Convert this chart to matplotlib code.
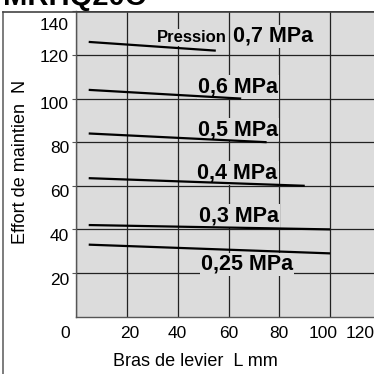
import matplotlib
matplotlib.use("Agg")
import matplotlib.pyplot as plt
import matplotlib.transforms as mtransforms
from matplotlib.lines import Line2D

plt.rcParams['font.family'] = ['Liberation Sans', 'DejaVu Sans']

# Data: lever arm L (mm) -> holding force (N)
pressures = ['0,7', '0,6', '0,5', '0,4', '0,3', '0,25']
lever_start = [5, 5, 5, 5, 5, 5]
lever_end = [55, 65, 75, 90, 100, 100]
force_start = [126, 104, 84, 63.5, 42, 33]
force_end = [122, 100, 80, 60, 40, 29]

# label anchors (data coords)
label_x = [61.8, 48, 48, 47.8, 48.2, 49.2]
label_y = [126, 102.7, 83.3, 63.4, 43.5, 21.4]

xticks = [0, 20, 40, 60, 80, 100, 120]
yticks = [20, 40, 60, 80, 100, 120, 140]

W = H = 374
fig = plt.figure(figsize=(W / 100, H / 100), dpi=100)
fig.patch.set_facecolor('white')

# axes in pixel placement: x=0 at px 76, x=120 at px 381 (past the crop), y 0..140 from px 316.6 up to 11.4
ax = fig.add_axes([76 / W, (H - 316.6) / H, (381 - 76) / W, (316.6 - 11.4) / H])
ax.set_facecolor('#dcdcdc')
ax.set_xlim(0, 120)
ax.set_ylim(0, 140)
ax.set_xticks(xticks)
ax.set_yticks(yticks)
ax.set_axisbelow(True)
ax.grid(True, color='#222222', lw=0.9)

for s in ['top', 'right']:
    ax.spines[s].set_visible(False)
for s in ['left', 'bottom']:
    ax.spines[s].set_color('#555555')
    ax.spines[s].set_linewidth(1.0)

ax.tick_params(axis='x', length=0, pad=7, labelsize=12.5)
ax.tick_params(axis='y', length=3, width=0.8, color='#555555', pad=2, labelsize=12.5)

# nudge tick labels like the original
x_off = [-11, 3, 0, 0, 0, -7, -21]
for lab, dx in zip(ax.get_xticklabels(), x_off):
    lab.set_transform(lab.get_transform() + mtransforms.ScaledTranslation(dx / 100, 0, fig.dpi_scale_trans))
y_off = [-6, -6, -5, -5, -4, -1, -13]
for lab, dy in zip(ax.get_yticklabels(), y_off):
    lab.set_transform(lab.get_transform() + mtransforms.ScaledTranslation(0, dy / 100, fig.dpi_scale_trans))

for i in range(len(pressures)):
    ax.plot([lever_start[i], lever_end[i]], [force_start[i], force_end[i]],
            color='black', lw=1.6, zorder=3, solid_capstyle='butt')

box = dict(facecolor='#dcdcdc', edgecolor='none', pad=1)
ax.text(31.9, label_y[0], 'Pression', fontsize=12, fontweight='bold',
        va='baseline', ha='left', bbox=box, zorder=2.5)
for i, p in enumerate(pressures):
    ax.text(label_x[i], label_y[i], p + ' MPa', fontsize=15.5, fontweight='bold',
            va='baseline', ha='left', bbox=box, zorder=2.5)

fig.text(195 / W, 1 - 361 / H, 'Bras de levier  L mm', fontsize=13, ha='center', va='center')
fig.text(21 / W, 1 - 162 / H, 'Effort de maintien  N', fontsize=13, ha='center', va='center',
         rotation=90)

# outer frame and title (clipped at the top, as in the source)
fig.add_artist(Line2D([3 / W, 3 / W], [0, 1 - 12 / H], color='#666666', lw=1.2))
fig.add_artist(Line2D([3 / W, 1], [1 - 12 / H, 1 - 12 / H], color='#444444', lw=1.2))
fig.text(3 / W, 1 - 5 / H, 'MRHQ20C', fontsize=21, fontweight='bold', ha='left', va='baseline')

fig.savefig('out.png', dpi=100)
